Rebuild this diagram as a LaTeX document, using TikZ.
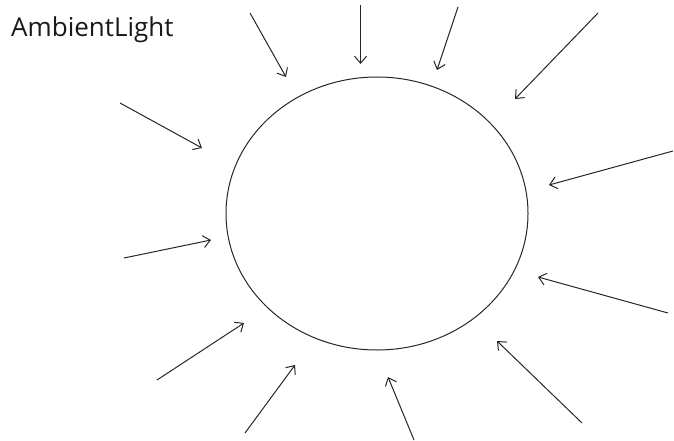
\documentclass[tikz,border=0pt]{standalone}
\usepackage{fontspec}
\setmainfont{Open Sans}
\usetikzlibrary{arrows.meta,shapes.geometric}
\begin{document}
\begin{tikzpicture}[x=1pt,y=-1pt,
  ray/.style={draw=black!85, line width=1pt, -{Straight Barb[length=7pt,width=12pt]}},
  lbl/.style={anchor=base west, inner sep=0, font=\fontsize{26}{30}\selectfont, text=black!90}]
\useasboundingbox (0,0) rectangle (674,441);
\node[draw=black!85, line width=1pt, ellipse, minimum width=302pt, minimum height=273pt, inner sep=0] (sun) at (377,213.5) {};
\node[lbl] (title) at (11,37) {AmbientLight};
% tails and heads
\coordinate (t1) at (250,13);  \coordinate (h1) at (286,77);
\coordinate (t2) at (360.5,5); \coordinate (h2) at (360.5,64);
\coordinate (t3) at (458,7);   \coordinate (h3) at (437,70);
\coordinate (t4) at (598,13);  \coordinate (h4) at (515,99);
\coordinate (t5) at (120,103); \coordinate (h5) at (202,148);
\coordinate (t6) at (673,151); \coordinate (h6) at (549,185);
\coordinate (t7) at (124,258); \coordinate (h7) at (211,240);
\coordinate (t8) at (668,313); \coordinate (h8) at (538,277);
\coordinate (t9) at (157,380); \coordinate (h9) at (244,323);
\coordinate (t10) at (245,433); \coordinate (h10) at (295,365);
\coordinate (t11) at (414,440); \coordinate (h11) at (388,377);
\coordinate (t12) at (582,423); \coordinate (h12) at (497,341);
\foreach \i in {1,...,12} {\draw[ray] (t\i) -- (h\i);}
\end{tikzpicture}
\end{document}
